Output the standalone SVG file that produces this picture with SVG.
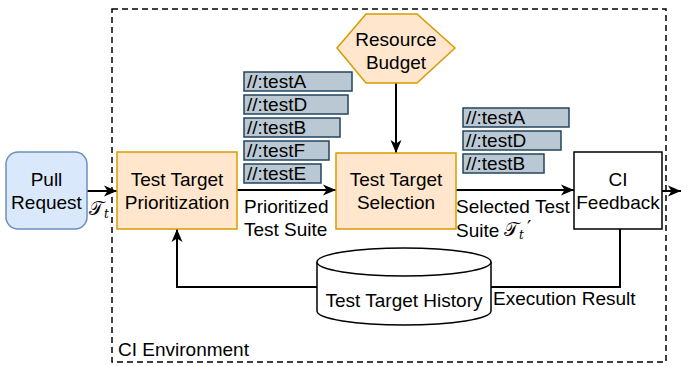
<svg xmlns="http://www.w3.org/2000/svg" width="681" height="366" viewBox="0 0 681 366">
<style>
text{font-family:"Liberation Sans",Arial,sans-serif;font-size:19px;fill:#000}
.proc{fill:#ffe6cc;stroke:#d79b00;stroke-width:1.5}
.item{fill:#bac8d3;stroke:#23445d;stroke-width:1.5}
.it{font-size:19px}
.edge{fill:none;stroke:#000;stroke-width:2}
.math{font-family:"DejaVu Serif","Liberation Serif",serif}
.sub{font-family:"DejaVu Serif","Liberation Serif",serif;font-style:italic;font-size:12px}
</style>
<defs>
<marker id="ah" markerUnits="userSpaceOnUse" markerWidth="14" markerHeight="12" refX="13" refY="6" orient="auto">
<path d="M0,0.5 L13,6 L0,11.5 L3.5,6 Z" fill="#000"/>
</marker>
</defs>
<rect id="ci-env" x="112" y="9" width="554" height="353" fill="none" stroke="#000" stroke-width="1.5" stroke-dasharray="6,4"/>
<text x="118" y="356">CI Environment</text>
<g id="connectors">
<line class="edge" x1="87" y1="191" x2="117" y2="191" marker-end="url(#ah)"/>
<line class="edge" x1="237" y1="190" x2="336" y2="190" marker-end="url(#ah)"/>
<line class="edge" x1="396" y1="83" x2="396" y2="153" marker-end="url(#ah)"/>
<line class="edge" x1="456" y1="190" x2="574" y2="190" marker-end="url(#ah)"/>
<line class="edge" x1="662" y1="191" x2="681" y2="191" marker-end="url(#ah)"/>
<polyline class="edge" points="317,287 177,287 177,229" marker-end="url(#ah)"/>
<polyline class="edge" points="620,229 620,287 491,287"/>
<text x="89" y="215" class="math" font-size="20">𝒯<tspan class="sub" dy="3">t</tspan></text>
<text x="244" y="213">Prioritized</text>
<text x="244" y="236">Test Suite</text>
<text x="456" y="213">Selected Test</text>
<text x="456" y="237">Suite</text>
<text x="504" y="236" class="math" font-size="20">𝒯<tspan class="sub" dy="3">t</tspan></text>
<text x="527" y="234" class="math" font-size="13">′</text>
<text x="493" y="305">Execution Result</text>
</g>
<g id="pull-request">
<rect x="6" y="152" width="81" height="77" rx="12" fill="#dae8fc" stroke="#6c8ebf" stroke-width="1.5"/>
<text x="46.5" y="186" text-anchor="middle">Pull</text>
<text x="46.5" y="209" text-anchor="middle">Request</text>
</g>
<g id="prioritization">
<rect class="proc" x="117" y="152" width="120" height="77"/>
<text x="177" y="186" text-anchor="middle">Test Target</text>
<text x="177" y="209" text-anchor="middle">Prioritization</text>
</g>
<g id="resource-budget">
<polygon points="337,48 366,14 417,14 455,48 417,83 366,83" fill="#ffe6cc" stroke="#d79b00" stroke-width="1.5"/>
<text x="396" y="46" text-anchor="middle">Resource</text>
<text x="396" y="69" text-anchor="middle">Budget</text>
</g>
<g id="selection">
<rect class="proc" x="336" y="153" width="120" height="76"/>
<text x="396" y="186" text-anchor="middle">Test Target</text>
<text x="396" y="209" text-anchor="middle">Selection</text>
</g>
<g id="ci-feedback">
<rect x="574" y="152" width="88" height="77" fill="#fff" stroke="#000" stroke-width="1.5"/>
<text x="618" y="186" text-anchor="middle">CI</text>
<text x="618" y="209" text-anchor="middle">Feedback</text>
</g>
<g id="prioritized-list">
<rect class="item" x="244" y="72" width="108" height="19"/>
<text class="it" x="247" y="88">//:testA</text>
<rect class="item" x="244" y="95" width="104" height="19"/>
<text class="it" x="247" y="111">//:testD</text>
<rect class="item" x="244" y="118" width="96" height="19"/>
<text class="it" x="247" y="134">//:testB</text>
<rect class="item" x="244" y="141" width="85" height="19"/>
<text class="it" x="247" y="157">//:testF</text>
<rect class="item" x="244" y="164" width="77" height="19"/>
<text class="it" x="247" y="180">//:testE</text>
</g>
<g id="selected-list">
<rect class="item" x="463" y="108" width="106" height="19"/>
<text class="it" x="466" y="124">//:testA</text>
<rect class="item" x="463" y="131" width="98" height="19"/>
<text class="it" x="466" y="147">//:testD</text>
<rect class="item" x="463" y="154" width="81" height="19"/>
<text class="it" x="466" y="170">//:testB</text>
</g>
<g id="history">
<path d="M317,262 L317,311 A87,14 0 0 0 491,311 L491,262" fill="#fff" stroke="#000" stroke-width="1.5"/>
<ellipse cx="404" cy="262" rx="87" ry="14" fill="#fff" stroke="#000" stroke-width="1.5"/>
<text x="404" y="307" text-anchor="middle">Test Target History</text>
</g>
</svg>
